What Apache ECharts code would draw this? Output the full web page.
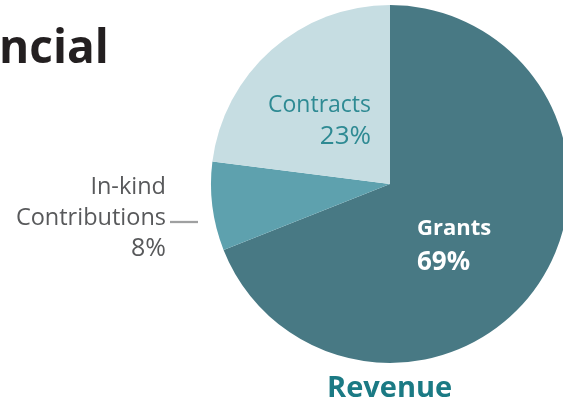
<!DOCTYPE html>
<html>
<head>
<meta charset="utf-8">
<script src="https://cdn.jsdelivr.net/npm/echarts@6/dist/echarts.min.js"></script>
<style>
html,body{margin:0;padding:0;background:#fff;}
#c{width:563px;height:408px;}
</style>
</head>
<body>
<div id="c"></div>
<script>
var categories = ['Grants', 'In-kind Contributions', 'Contracts'];
var values = [69, 8, 23];
var sliceColors = ['#487984', '#5ea1ae', '#c6dde2'];
var titleText = 'ncial';
var chartTitle = 'Revenue';

var FONT = '"Open Sans", "Noto Sans", sans-serif';
var chart = echarts.init(document.getElementById('c'), null, {renderer: 'canvas'});

// small leader dash drawn as the background image of a rich-text token
var dashCanvas = document.createElement('canvas');
dashCanvas.width = 28; dashCanvas.height = 31;
(function () {
  var ctx = dashCanvas.getContext('2d');
  ctx.strokeStyle = '#58595b';
  ctx.lineWidth = 1.3;
  ctx.beginPath();
  ctx.moveTo(0, 19.5);
  ctx.lineTo(28, 19.5);
  ctx.stroke();
})();

var labelConfigs = [
  {
    formatter: function (p) { return '{a|' + p.name + '}\n{b|' + p.value + '%}'; },
    rich: {
      a: {fontFamily: FONT, fontWeight: 'bold', fontSize: 22, lineHeight: 34, color: '#fff', align: 'left'},
      b: {fontFamily: FONT, fontWeight: 'bold', fontSize: 26, lineHeight: 34, color: '#fff', align: 'left'}
    }
  },
  {
    formatter: function (p) {
      var parts = p.name.split(' ');
      return '{p|' + parts[0] + '}\n{t|' + parts[1] + '}{s|}{d|}\n{q|' + p.value + '%}';
    },
    rich: {
      p: {fontFamily: FONT, fontSize: 23.5, lineHeight: 31, color: '#58595b', align: 'right', padding: [0, 32, 0, 0]},
      t: {fontFamily: FONT, fontSize: 23.5, lineHeight: 31, color: '#58595b', align: 'right'},
      q: {fontFamily: FONT, fontSize: 25, lineHeight: 31, color: '#58595b', align: 'right', padding: [0, 32, 0, 0]},
      s: {width: 4, height: 31, lineHeight: 31},
      d: {width: 28, height: 31, lineHeight: 31, backgroundColor: {image: dashCanvas}}
    }
  },
  {
    formatter: function (p) { return '{a|' + p.name + '}\n{b|' + p.value + '%}'; },
    rich: {
      a: {fontFamily: FONT, fontSize: 23, lineHeight: 32, color: '#2e8a93', align: 'right'},
      b: {fontFamily: FONT, fontSize: 26, lineHeight: 32, color: '#2e8a93', align: 'right'}
    }
  }
];

var labelPos = [
  {x: 417, y: 246, align: 'left'},
  {x: 198, y: 218, align: 'right'},
  {x: 371, y: 121, align: 'right'}
];

var data = categories.map(function (c, i) {
  return {
    name: c,
    value: values[i],
    itemStyle: {color: sliceColors[i]},
    label: labelConfigs[i]
  };
});

chart.setOption({
  animation: false,
  title: [
    {
      text: titleText, left: -1, top: 27, padding: 0,
      textStyle: {fontFamily: FONT, fontWeight: 'bold', fontSize: 46, color: '#231f20'}
    },
    {
      text: chartTitle, left: 327, top: 374, padding: 0,
      textStyle: {fontFamily: FONT, fontWeight: 'bold', fontSize: 29, color: '#1b7a84'}
    }
  ],
  series: [{
    type: 'pie',
    center: [390, 184],
    radius: 179,
    startAngle: 90,
    clockwise: true,
    avoidLabelOverlap: false,
    data: data,
    label: {show: true, position: 'inside'},
    labelLine: {show: false},
    itemStyle: {borderWidth: 0},
    emphasis: {disabled: true},
    labelLayout: function (params) {
      var p = labelPos[params.dataIndex];
      return {x: p.x, y: p.y, align: p.align, verticalAlign: 'middle'};
    }
  }]
});
</script>
</body>
</html>
